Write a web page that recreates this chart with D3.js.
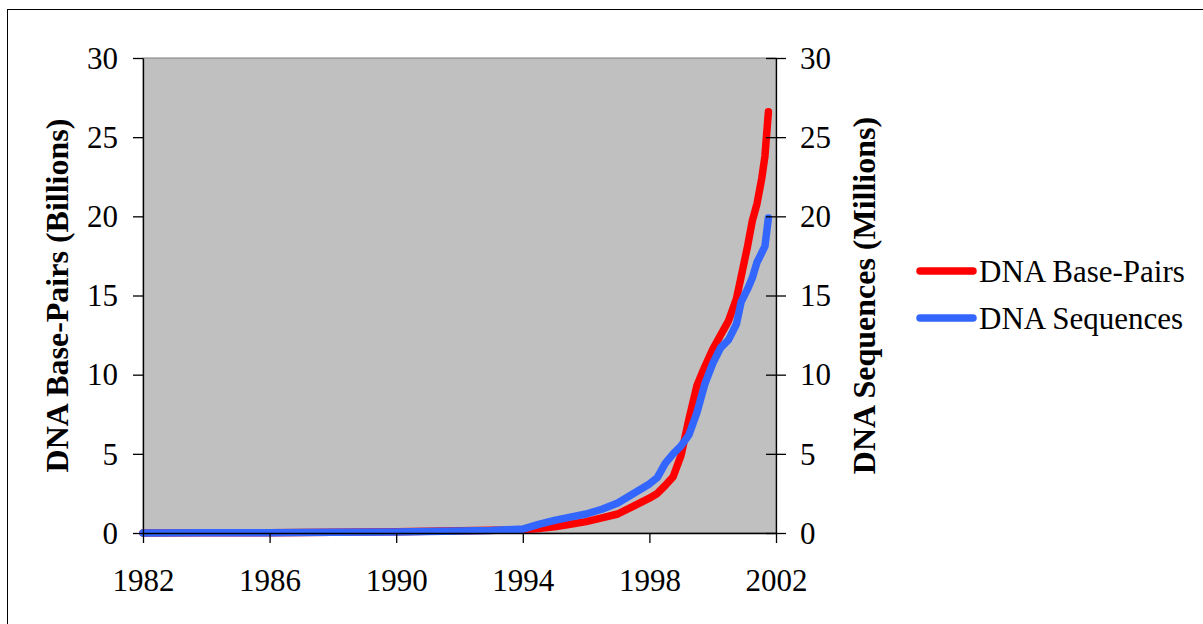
<!DOCTYPE html>
<html>
<head>
<meta charset="utf-8">
<script src="https://cdn.jsdelivr.net/npm/d3@7"></script>
<style>
  body { margin: 0; background: #fff; }
  svg { display: block; }
  svg text { font-family: "Liberation Serif", "Times New Roman", serif; }
</style>
</head>
<body>
<div class="canvas"></div>
<script>
// data
const years = [1982, 1984, 1986, 1988, 1990, 1992, 1993, 1994, 1994.5, 1995, 1995.5, 1996, 1996.5,
  1997, 1997.5, 1998, 1998.25, 1998.5, 1998.75, 1999, 1999.25, 1999.5, 1999.75, 2000, 2000.25,
  2000.5, 2000.75, 2000.9, 2001.1, 2001.25, 2001.4, 2001.55, 2001.65, 2001.76];
// billions of base pairs
const basePairs = [0, 0.01, 0.02, 0.05, 0.08, 0.14, 0.17, 0.2, 0.28, 0.4, 0.55, 0.72, 0.95,
  1.2, 1.7, 2.2, 2.5, 3.0, 3.55, 4.9, 7.2, 9.3, 10.5, 11.6, 12.5,
  13.4, 14.8, 16.2, 18.1, 19.7, 20.8, 22.4, 23.8, 26.6];
// millions of sequences
const sequences = [0, 0.01, 0.02, 0.04, 0.07, 0.12, 0.16, 0.25, 0.55, 0.8, 1.0, 1.2, 1.5,
  1.9, 2.5, 3.1, 3.5, 4.4, 5.0, 5.5, 6.2, 7.6, 9.4, 10.7, 11.7,
  12.2, 13.2, 14.6, 15.4, 16.1, 17.1, 17.7, 18.1, 19.9];
const xTicks = [1982, 1986, 1990, 1994, 1998, 2002];
const yTicks = [0, 5, 10, 15, 20, 25, 30];
const seriesNames = ['DNA Base-Pairs', 'DNA Sequences'];
const seriesColors = ['#ff0000', '#3366ff'];

const FONT = '"Liberation Serif", "Times New Roman", serif';
const W = 1203, H = 624;
const margin = { top: 58, right: 427, bottom: 91, left: 143 };
const graphWidth = W - margin.left - margin.right;
const graphHeight = H - margin.top - margin.bottom;

const svg = d3.select('.canvas').append('svg')
    .attr('width', W)
    .attr('height', H)
    .attr('font-family', FONT);

// outer frame (only top & left edges fall inside the picture)
svg.append('rect')
    .attr('x', 7.5).attr('y', 9.5)
    .attr('width', W + 20).attr('height', H + 20)
    .attr('fill', 'none')
    .attr('stroke', '#000')
    .attr('stroke-width', 1);

const graph = svg.append('g')
    .attr('transform', `translate(${margin.left}, ${margin.top})`);

const x = d3.scaleLinear().domain([1982, 2002]).range([0, graphWidth]);
const yL = d3.scaleLinear().domain([0, 30]).range([graphHeight, 0]);
const yR = d3.scaleLinear().domain([0, 30]).range([graphHeight, 0]);

// plot background
graph.append('rect')
    .attr('width', graphWidth)
    .attr('height', graphHeight)
    .attr('fill', '#c0c0c0')
    .attr('stroke', '#808080')
    .attr('stroke-width', 1);

// lines
const line1 = d3.line().x((d, i) => x(years[i])).y(d => yL(d));
const line2 = d3.line().x((d, i) => x(years[i])).y(d => yR(d));

graph.append('path')
    .attr('d', line1(basePairs))
    .attr('fill', 'none')
    .attr('stroke', seriesColors[0])
    .attr('stroke-width', 7.5)
    .attr('stroke-linejoin', 'round')
    .attr('stroke-linecap', 'round');

graph.append('path')
    .attr('d', line2(sequences))
    .attr('fill', 'none')
    .attr('stroke', seriesColors[1])
    .attr('stroke-width', 7.5)
    .attr('stroke-linejoin', 'round')
    .attr('stroke-linecap', 'round');

// axes
const xAxisGroup = graph.append('g')
    .attr('transform', `translate(0, ${graphHeight})`)
    .call(d3.axisBottom(x).tickValues(xTicks).tickFormat(d3.format('d')).tickSize(10).tickSizeOuter(0));

const yAxisGroup = graph.append('g')
    .call(d3.axisLeft(yL).tickValues(yTicks).tickSize(10).tickSizeOuter(0));

const yAxisRGroup = graph.append('g')
    .attr('transform', `translate(${graphWidth}, 0)`)
    .call(d3.axisRight(yR).tickValues(yTicks).tickSize(10).tickSizeOuter(0));

[xAxisGroup, yAxisGroup, yAxisRGroup].forEach(g => {
  g.attr('font-family', FONT).attr('font-size', 31);
  g.select('.domain').attr('stroke', '#000').attr('stroke-width', 1.3);
  g.selectAll('.tick line').attr('stroke', '#000').attr('stroke-width', 1.3);
  g.selectAll('text').attr('fill', '#000');
});

xAxisGroup.selectAll('text').attr('y', 58).attr('dy', 0);
yAxisGroup.selectAll('text').attr('x', -25).attr('dy', '0.33em');
yAxisRGroup.selectAll('.tick line').attr('x1', -10);
yAxisRGroup.selectAll('text').attr('x', 24).attr('dy', '0.33em');

// axis titles
svg.append('text')
    .attr('transform', `translate(57, ${margin.top + graphHeight / 2}) rotate(-90)`)
    .attr('text-anchor', 'middle')
    .attr('dy', '0.35em')
    .attr('font-family', FONT)
    .attr('font-size', 32)
    .attr('font-weight', 'bold')
    .text('DNA Base-Pairs (Billions)');

svg.append('text')
    .attr('transform', `translate(864, ${margin.top + graphHeight / 2}) rotate(-90)`)
    .attr('text-anchor', 'middle')
    .attr('dy', '0.35em')
    .attr('font-family', FONT)
    .attr('font-size', 32)
    .attr('font-weight', 'bold')
    .text('DNA Sequences (Millions)');

// legend
const legend = svg.append('g').attr('transform', 'translate(920, 271)');
seriesNames.forEach((name, i) => {
  const row = legend.append('g').attr('transform', `translate(0, ${i * 47})`);
  row.append('line')
      .attr('x1', 0).attr('x2', 53)
      .attr('stroke', seriesColors[i])
      .attr('stroke-width', 7.5)
      .attr('stroke-linecap', 'round');
  row.append('text')
      .attr('x', 59)
      .attr('dy', '0.35em')
      .attr('font-family', FONT)
      .attr('font-size', 31)
      .text(name);
});
</script>
</body>
</html>
